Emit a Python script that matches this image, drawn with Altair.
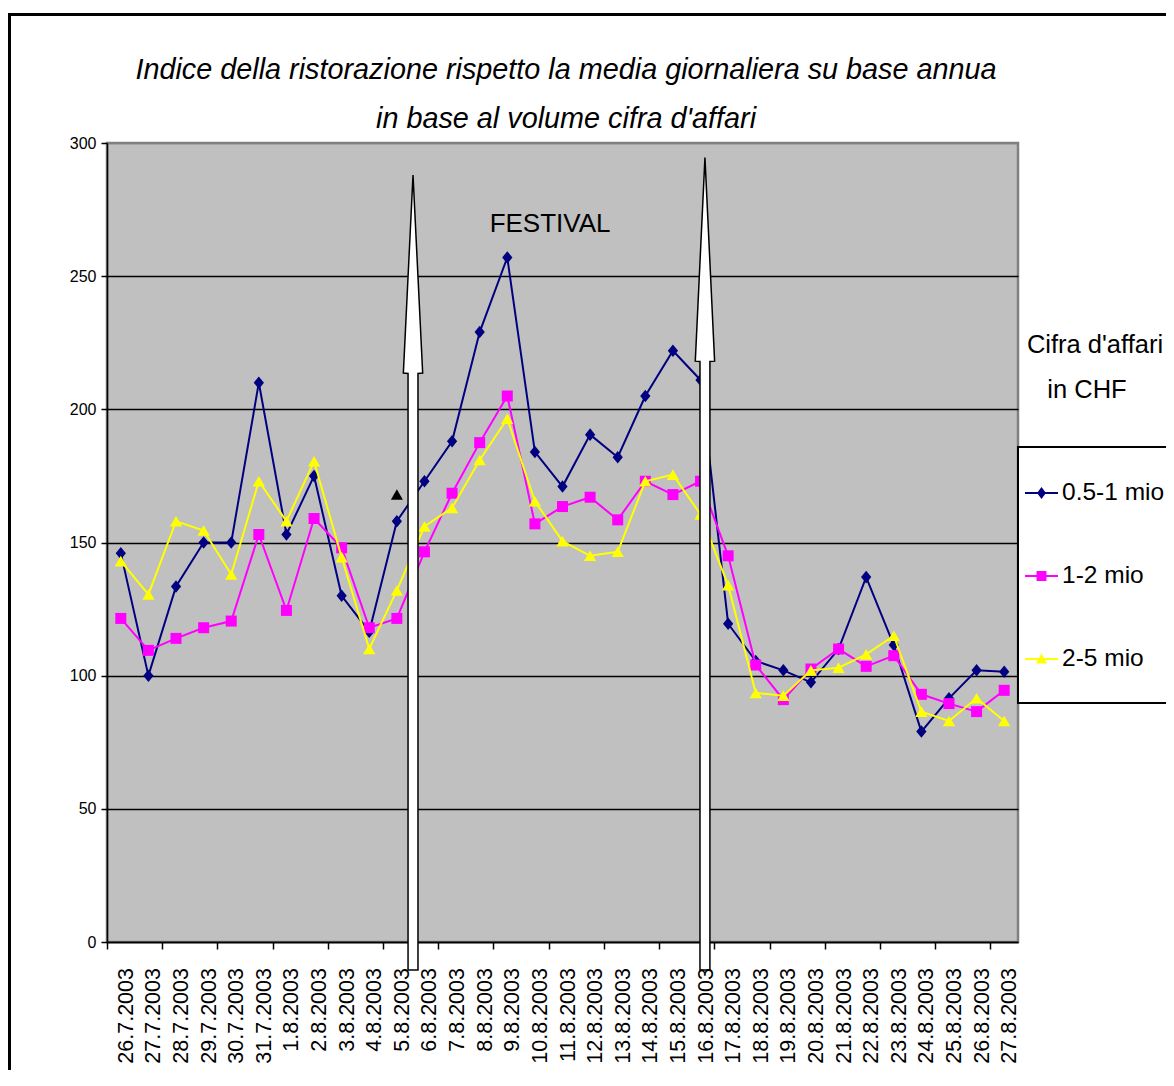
import json
import altair as alt
import pandas as pd

# ---------------- data ----------------
dates = ['26.7.2003', '27.7.2003', '28.7.2003', '29.7.2003', '30.7.2003', '31.7.2003',
         '1.8.2003', '2.8.2003', '3.8.2003', '4.8.2003', '5.8.2003', '6.8.2003',
         '7.8.2003', '8.8.2003', '9.8.2003', '10.8.2003', '11.8.2003', '12.8.2003',
         '13.8.2003', '14.8.2003', '15.8.2003', '16.8.2003', '17.8.2003', '18.8.2003',
         '19.8.2003', '20.8.2003', '21.8.2003', '22.8.2003', '23.8.2003', '24.8.2003',
         '25.8.2003', '26.8.2003', '27.8.2003']
series_names = ['0.5-1 mio', '1-2 mio', '2-5 mio']
values_05_1 = [146, 100, 133.5, 150, 150, 210, 153, 175, 130, 116.5, 158, 173, 188, 229, 257,
               184, 171, 190.5, 182, 205, 222, 211, 119.5, 105.5, 102, 97.5, 110, 137, 111.5,
               79, 91.5, 102, 101.5]
values_1_2 = [121.5, 109.5, 114, 118, 120.5, 153, 124.5, 159, 148, 118, 121.5, 146.5, 168.5,
              187.5, 205, 157, 163.5, 167, 158.5, 173, 168, 173, 145, 104, 91, 102.5, 110,
              103.5, 107.5, 93, 89.5, 86.5, 94.5]
values_2_5 = [143, 130.5, 158, 154.5, 138, 173, 158, 180.5, 144.5, 110, 132, 156, 163, 181,
              196.5, 165.5, 150.5, 145, 146.5, 173, 175.5, 160.5, 134, 93.5, 92.5, 102, 103,
              108, 115, 86.5, 83, 91.5, 83]
colors = ['#000080', '#FF00FF', '#FFFF00']
title_lines = ['Indice della ristorazione rispetto la media giornaliera su base annua',
               "in base al volume cifra d'affari"]

# annotation arrows (x in category units, y in index units)
arrow_centers = [11.085, 21.66]
arrow_head_base = [213.5, 218]
arrow_tip = [288, 294.5]
arrow_bottom = -10.5

FONT = "Liberation Sans, Arial, Helvetica"

rows = []
for i, d in enumerate(dates):
    for name, vals in zip(series_names, [values_05_1, values_1_2, values_2_5]):
        rows.append({'pos': i + 0.5, 'date': d, 'series': name, 'value': vals[i]})
df = pd.DataFrame(rows)
dates_df = pd.DataFrame({'pos': [i + 0.5 for i in range(len(dates))], 'date': dates})

shaft_half, head_half = 0.18, 0.35
arrow_rows = []
for k, (c, hb, tp) in enumerate(zip(arrow_centers, arrow_head_base, arrow_tip)):
    arrow_rows += [
        {'arrow': k, 'y': arrow_bottom, 'x': c - shaft_half, 'x2': c + shaft_half},
        {'arrow': k, 'y': hb, 'x': c - shaft_half, 'x2': c + shaft_half},
        {'arrow': k, 'y': hb + 0.1, 'x': c - head_half, 'x2': c + head_half},
        {'arrow': k, 'y': tp, 'x': c, 'x2': c},
    ]
arrows_df = pd.DataFrame(arrow_rows)

# ---------------- scales / axes ----------------
X_SCALE = alt.Scale(domain=[0, len(dates)], nice=False, zero=False)
Y_SCALE = alt.Scale(domain=[0, 300], nice=False)
x_axis = alt.Axis(values=list(range(len(dates) + 1)), labels=False,
                  tickSize=7, tickColor='black', tickWidth=1.5, domainColor='black',
                  domainWidth=1.5, grid=False, title=None, zindex=0)
y_axis = alt.Axis(values=[0, 50, 100, 150, 200, 250, 300], grid=True,
                  gridColor={"condition": {"test": "datum.value == 300", "value": "#808080"},
                             "value": "black"},
                  gridWidth=1.5, tickSize=6, tickColor='black', tickWidth=1.5,
                  domainColor='black', domainWidth=1.5, labelFont=FONT, labelFontSize=16,
                  labelColor='black', labelPadding=5, title=None, zindex=0)

X = alt.X('pos:Q', scale=X_SCALE, axis=x_axis)
Y = alt.Y('value:Q', scale=Y_SCALE, axis=y_axis)

one = pd.DataFrame({'a': [0]})
base = alt.Chart(df)
diamond_path = "M0,-1.1L0.9,0L0,1.1L-0.9,0Z"
point_shapes = [diamond_path, 'square', 'triangle-up']
point_sizes = [130, 121, 150]

layers = []
for name, col, shp, sz in zip(series_names, colors, point_shapes, point_sizes):
    sub = base.transform_filter(alt.datum.series == name)
    layers.append(sub.mark_line(color=col, strokeWidth=2).encode(x=X, y=Y))
    layers.append(sub.mark_point(shape=shp, filled=True, color=col, size=sz, opacity=1)
                  .encode(x=X, y=Y))

# date labels under the axis (rotated)
date_labels = alt.Chart(dates_df).mark_text(
    angle=270, align='right', baseline='middle', font=FONT, fontSize=21.5, color='black', dy=6
).encode(x=X, y=alt.value(825), text='date:N')

# stray black marker near 5.8
marker = alt.Chart(one).mark_point(
    shape='triangle-up', filled=True, color='black', size=144, opacity=1
).encode(x=alt.datum(10.5), y=alt.datum(168))

festival = alt.Chart(one).mark_text(
    text='FESTIVAL', font=FONT, fontSize=26, color='black', align='center',
    baseline='alphabetic'
).encode(x=alt.datum(16.05), y=alt.datum(266.5))

arrows = alt.Chart(arrows_df).mark_area(
    orient='horizontal', fill='white', stroke='black', strokeWidth=1.5, opacity=1
).encode(
    y=alt.Y('y:Q', scale=Y_SCALE, axis=y_axis),
    x=alt.X('x:Q', scale=X_SCALE, axis=x_axis),
    x2='x2:Q',
    detail='arrow:N',
)

# legend box + legend (symbols = short line + marker)
legend_box = alt.Chart(one).mark_rect(
    fill='white', stroke='black', strokeWidth=2
).encode(x=alt.value(911), x2=alt.value(1100), y=alt.value(304), y2=alt.value(560))

leg_line = "M-1,-0.06H1V0.06H-1Z"
legend_paths = [
    leg_line + "M0,-0.36L0.27,0L0,0.36L-0.27,0Z",
    leg_line + "M-0.3,-0.3H0.3V0.3H-0.3Z",
    leg_line + "M0,-0.33L0.33,0.27L-0.33,0.27Z",
]
legend_layer = alt.Chart(pd.DataFrame({'series': series_names})).mark_point(
    filled=True, opacity=1
).encode(
    x=alt.datum(-100), y=alt.datum(150),
    color=alt.Color('series:N', scale=alt.Scale(domain=series_names, range=colors),
                    legend=alt.Legend(title=None, orient='none', legendX=918, legendY=333.5,
                                      padding=0, rowPadding=55, symbolSize=1089,
                                      labelOffset=4, labelFont=FONT, labelFontSize=24.5,
                                      labelColor='black', symbolStrokeWidth=0,
                                      symbolOpacity=1, direction='vertical')),
    shape=alt.Shape('series:N', scale=alt.Scale(domain=series_names, range=legend_paths)),
)

leg_title1 = alt.Chart(one).mark_text(
    text="Cifra d'affari", font=FONT, fontSize=25.5, color='black', align='center',
    baseline='alphabetic'
).encode(x=alt.value(988), y=alt.value(210))
leg_title2 = alt.Chart(one).mark_text(
    text="in CHF", font=FONT, fontSize=25.5, color='black', align='center',
    baseline='alphabetic'
).encode(x=alt.value(980), y=alt.value(255))

title1 = alt.Chart(one).mark_text(
    text=title_lines[0], font=FONT, fontSize=28.8, fontStyle='italic', color='black',
    align='center', baseline='alphabetic'
).encode(x=alt.value(459), y=alt.value(-64))
title2 = alt.Chart(one).mark_text(
    text=title_lines[1], font=FONT, fontSize=28.8, fontStyle='italic', color='black',
    align='center', baseline='alphabetic'
).encode(x=alt.value(459), y=alt.value(-15))

frame = alt.Chart(one).mark_rect(
    fill=None, stroke='black', strokeWidth=3
).encode(x=alt.value(-97.5), x2=alt.value(1100), y=alt.value(-128.5), y2=alt.value(1000))

chart = alt.layer(
    *layers, marker, festival, arrows, date_labels, legend_box, legend_layer,
    leg_title1, leg_title2, title1, title2, frame
).properties(
    width=911, height=799,
    padding={'left': 99, 'top': 135, 'right': 148, 'bottom': 128},
    autosize=alt.AutoSizeParams(type='none'),
    background='white',
).configure_view(
    fill='#C0C0C0', stroke='#808080', strokeWidth=2.5
)

chart.save("out.html", embed_options={"renderer": "svg", "actions": False})
